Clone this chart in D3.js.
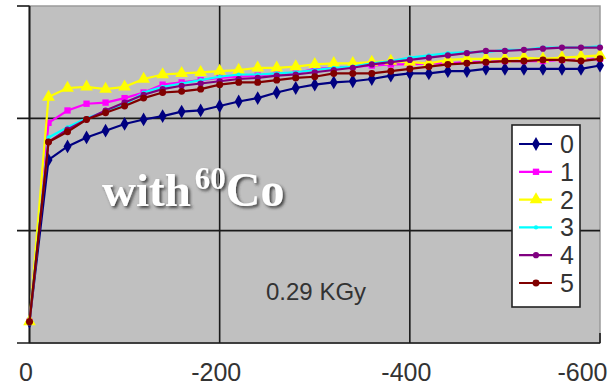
<!DOCTYPE html>
<html><head><meta charset="utf-8">
<script src="https://cdn.jsdelivr.net/npm/d3@7"></script>
<style>html,body{margin:0;padding:0;background:#fff;}svg{display:block;}</style>
</head><body>
<script>
// x categories: 0, -20, ..., -600
const xValues = [0,-20,-40,-60,-80,-100,-120,-140,-160,-180,-200,-220,-240,-260,-280,-300,-320,-340,-360,-380,-400,-420,-440,-460,-480,-500,-520,-540,-560,-580,-600];
const seriesNames = ["0","1","2","3","4","5"];
const s0 = [0.19,1.63,1.75,1.83,1.89,1.95,1.99,2.02,2.06,2.07,2.11,2.15,2.18,2.23,2.27,2.30,2.32,2.33,2.35,2.38,2.40,2.40,2.42,2.42,2.44,2.44,2.44,2.44,2.44,2.44,2.47];
const s1 = [0.19,1.96,2.07,2.13,2.14,2.18,2.23,2.30,2.32,2.34,2.36,2.37,2.38,2.40,2.40,2.44,2.45,2.46,2.47,2.48,2.48,2.49,2.49,2.50,2.50,2.51,2.51,2.51,2.52,2.52,2.53];
const s2 = [0.19,2.19,2.27,2.28,2.26,2.28,2.35,2.39,2.40,2.41,2.42,2.43,2.45,2.45,2.46,2.48,2.49,2.49,2.50,2.51,2.50,2.49,2.52,2.53,2.53,2.53,2.54,2.53,2.54,2.55,2.56];
const s3 = [0.19,1.83,1.92,2.00,2.06,2.12,2.23,2.28,2.31,2.34,2.37,2.39,2.39,2.40,2.41,2.43,2.45,2.46,2.49,2.51,2.54,2.56,2.58,2.59,2.59,2.61,2.61,2.63,2.63,2.63,2.64];
const s4 = [0.19,1.79,1.90,1.99,2.07,2.14,2.21,2.26,2.29,2.31,2.33,2.35,2.36,2.38,2.39,2.41,2.43,2.45,2.48,2.50,2.52,2.54,2.56,2.58,2.60,2.60,2.61,2.62,2.63,2.63,2.63];
const s5 = [0.19,1.79,1.88,1.99,2.05,2.11,2.18,2.23,2.24,2.26,2.30,2.32,2.32,2.34,2.36,2.37,2.40,2.40,2.40,2.42,2.44,2.46,2.48,2.49,2.50,2.51,2.51,2.52,2.52,2.51,2.53];
const xTicks = [0,-200,-400,-600];
const xTickLabels = ["0","-200","-400","-600"];
const yTicks = [0,1,2,3];
const doseLabel = "0.29 KGy";

const seriesData = [s0,s1,s2,s3,s4,s5];
const colors = ["#000080","#ff00ff","#ffff00","#00ffff","#800080","#800000"];
const symbols = [d3.symbolDiamond,d3.symbolSquare,d3.symbolTriangle,d3.symbolCircle,d3.symbolCircle,d3.symbolCircle];
const symSizes = [55,40,70,14,30,38];

const W = 613, H = 389;
const svg = d3.select("body").append("svg").attr("width",W).attr("height",H);
const x = d3.scaleLinear().domain([0,-600]).range([29.5,600]);
const y = d3.scaleLinear().domain([0,3]).range([343,6]);

// plot background
svg.append("rect").attr("x",x(0)).attr("y",y(3)).attr("width",x(-600)-x(0)).attr("height",y(0)-y(3))
  .attr("fill","#c0c0c0").attr("stroke","#9a9a9a").attr("stroke-width",1.5);

// horizontal grid + left ticks
svg.append("g").selectAll("line").data(yTicks).join("line")
  .attr("x1",17).attr("x2",d=> (d===3? x(0) : x(-600))).attr("y1",d=>y(d)).attr("y2",d=>y(d))
  .attr("stroke","#1a1a1a").attr("stroke-width",1.6);
// vertical grid
svg.append("g").selectAll("line").data(xTicks.filter(d=>d!==0 && d!==-600)).join("line")
  .attr("x1",d=>x(d)).attr("x2",d=>x(d)).attr("y1",y(3)).attr("y2",y(0))
  .attr("stroke","#1a1a1a").attr("stroke-width",1.6);
// left axis line
svg.append("line").attr("x1",x(0)).attr("x2",x(0)).attr("y1",y(3)).attr("y2",y(0))
  .attr("stroke","#1a1a1a").attr("stroke-width",2);
// small right end tick
svg.append("line").attr("x1",x(-600)).attr("x2",x(-600)).attr("y1",y(0)-10).attr("y2",y(0))
  .attr("stroke","#1a1a1a").attr("stroke-width",1.6);

// x axis labels
const xAxis = d3.axisBottom(x).tickValues(xTicks).tickSize(0).tickPadding(0)
  .tickFormat((d,i)=>xTickLabels[i]);
const gx = svg.append("g").attr("transform",`translate(0,${y(0)})`).call(xAxis);
gx.select(".domain").remove();
gx.selectAll("text").attr("font-family","Liberation Sans, Arial, sans-serif").attr("font-size",25)
  .attr("fill","#333").attr("dy",0).attr("y",38)
  .attr("text-anchor", d=> d===-600 ? "end" : "middle")
  .attr("dx", d=> d===-600 ? 7 : -4);

// series lines & markers
const line = d3.line().x((d,i)=>x(xValues[i])).y(d=>y(d));
seriesData.forEach((s,k)=>{
  const g = svg.append("g");
  g.append("path").attr("d",line(s)).attr("fill","none").attr("stroke",colors[k]).attr("stroke-width",2.2);
  g.selectAll("path.m").data(s).join("path").attr("class","m")
    .attr("transform",(d,i)=>`translate(${x(xValues[i])},${y(d)})`)
    .attr("d",d3.symbol().type(symbols[k]).size(symSizes[k])).attr("fill",colors[k]);
});

// annotation text
svg.append("text").attr("x",266).attr("y",300).attr("font-family","Liberation Sans, Arial, sans-serif")
  .attr("font-size",24).attr("fill","#333").text(doseLabel);

// "with 60Co" with soft shadow
const defs = svg.append("defs");
const f = defs.append("filter").attr("id","shadow").attr("x","-10%").attr("y","-20%").attr("width","130%").attr("height","150%");
f.append("feGaussianBlur").attr("in","SourceAlpha").attr("stdDeviation",1.6).attr("result","b");
f.append("feOffset").attr("in","b").attr("dx",2).attr("dy",2).attr("result","o");
f.append("feFlood").attr("flood-color","#333").attr("flood-opacity",0.9);
f.append("feComposite").attr("in2","o").attr("operator","in").attr("result","s");
const fm = f.append("feMerge");
fm.append("feMergeNode").attr("in","s");
fm.append("feMergeNode").attr("in","SourceGraphic");

const t = svg.append("text").attr("x",102).attr("y",206).attr("font-family","Liberation Serif, Times New Roman, serif")
  .attr("font-weight","bold").attr("fill","#fff").attr("filter","url(#shadow)");
t.append("tspan").attr("font-size",47).text("with");
t.append("tspan").attr("font-size",31).attr("dx",4).attr("dy",-17).text("60");
t.append("tspan").attr("font-size",48).attr("dy",17).text("Co");

// legend
const lg = svg.append("g");
lg.append("rect").attr("x",512).attr("y",125).attr("width",68).attr("height",182)
  .attr("fill","#fff").attr("stroke","#222").attr("stroke-width",1.6);
seriesNames.forEach((n,k)=>{
  const yy = 144 + k*27.8;
  lg.append("line").attr("x1",519).attr("x2",552).attr("y1",yy).attr("y2",yy).attr("stroke",colors[k]).attr("stroke-width",2.2);
  lg.append("path").attr("transform",`translate(536,${yy})`).attr("d",d3.symbol().type(symbols[k]).size(symSizes[k])).attr("fill",colors[k]);
  lg.append("text").attr("x",560).attr("y",yy+9).attr("font-family","Liberation Sans, Arial, sans-serif")
    .attr("font-size",25).attr("fill","#333").text(n);
});
</script>
</body></html>
